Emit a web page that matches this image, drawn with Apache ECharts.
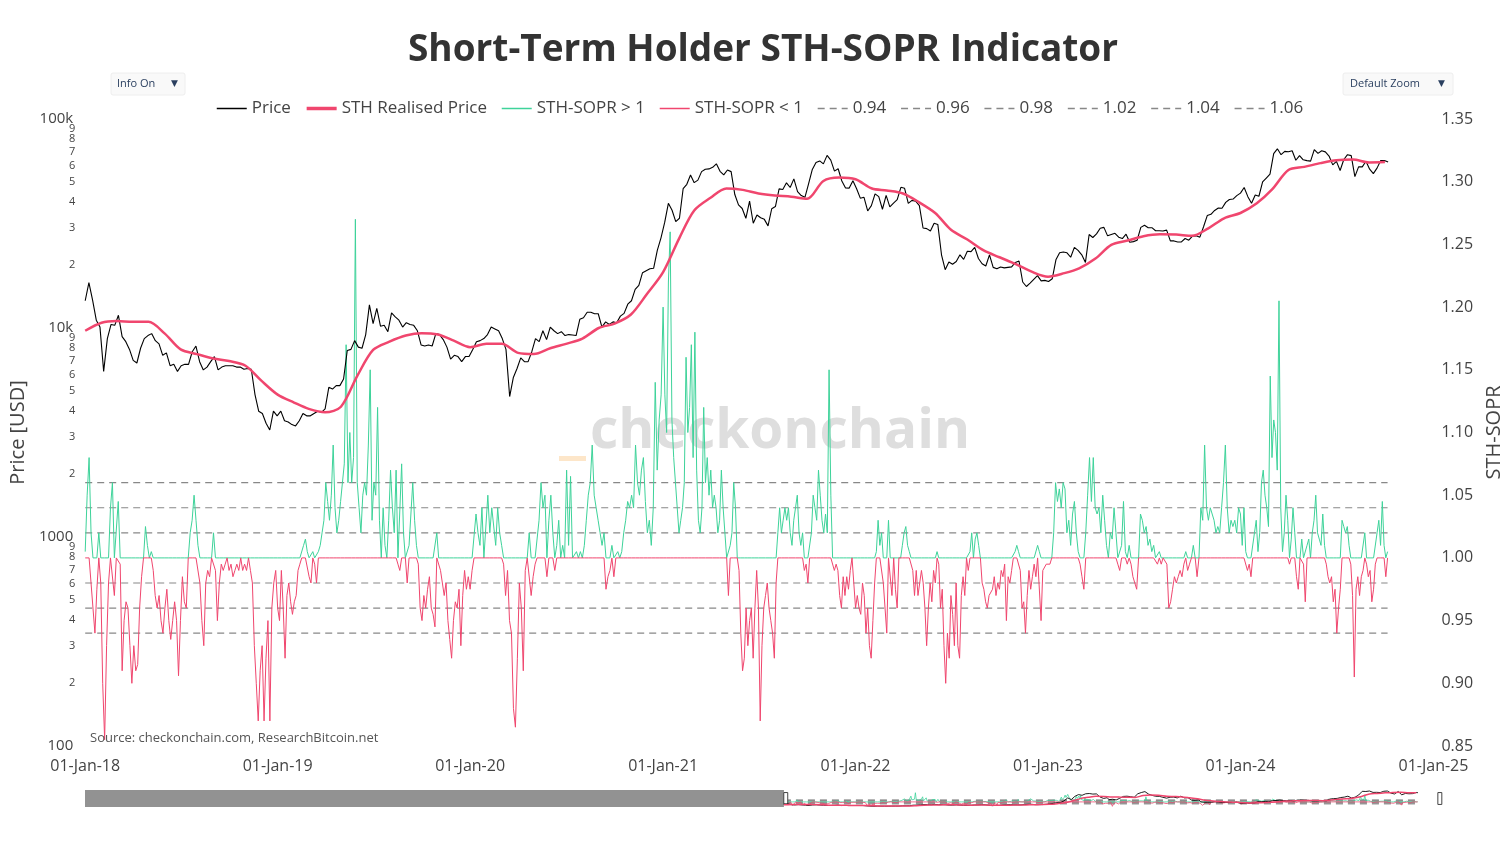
<!DOCTYPE html>
<html>
<head>
<meta charset="utf-8">
<title>Short-Term Holder STH-SOPR Indicator</title>
<script src="https://cdn.jsdelivr.net/npm/echarts@6.0.0/dist/echarts.min.js"></script>
<style>
  html, body { margin: 0; padding: 0; background: #fff; }
  #chart { width: 1512px; height: 857px; }
</style>
</head>
<body>
<div id="chart"></div>
<script>
// weekly BTC price (USD), one value per week starting Mon 2018-01-01
var priceWeekly = [
  // 2018
  13500, 16500, 13600, 10900, 10100,
  6200, 8900, 10400, 10300,
  11500, 9100, 8600, 7900,
  7000, 6800, 8000, 8900, 9200,
  9400, 8700, 8400, 7400,
  7600, 6600, 6700, 6200,
  6600, 6700, 6700, 7700, 8200,
  6900, 6300, 6500, 6900,
  7300, 6300, 6500, 6600,
  6600, 6600, 6500, 6500, 6350,
  6400, 6350, 4800, 4000,
  3900, 3500, 3250, 4000, 3800,
  // 2019
  4000, 3600, 3550, 3450,
  3400, 3600, 3900, 3800,
  3800, 3900, 4000, 3950,
  4100, 5200, 5100, 5300, 5300,
  5700, 7800, 7900, 8700,
  8100, 8000, 9300, 12900,
  10500, 12400, 10200, 10300, 9600,
  11800, 11300, 10900, 10100,
  10600, 10400, 10300, 9700, 8300,
  8200, 8300, 8200, 9400,
  9300, 8800, 8100, 7100,
  7400, 7300, 6900, 7300, 7300,
  // 2020
  7900, 8600, 8700, 8900,
  9300, 10100, 9900, 9700,
  8900, 7900, 4700, 5800, 6400,
  7200, 6900, 6900, 7700,
  8900, 8600, 9700, 8800,
  10100, 9700, 9400, 9600, 9200,
  9300, 9250, 9200, 11000,
  11200, 11900, 11900, 11700, 11700,
  10100, 10700, 10400, 10700,
  10600, 11400, 11750, 13000,
  13500, 15300, 16000, 18400, 18800,
  19200, 19300, 23500, 27000,
  // 2021
  32000, 39500, 36600, 32300,
  33500, 46400, 48700, 54000,
  49600, 51000, 56000, 57500, 57700,
  58700, 61000, 56200, 54000,
  57000, 56000, 43500, 38800, 37300,
  33500, 40500, 31700, 34700,
  33700, 33100, 30800, 37200,
  38100, 46300, 46000, 49500, 47000,
  51700, 44900, 43000, 42200,
  49100, 57400, 62000, 63000,
  61000, 67000, 63600, 56300, 57800,
  50500, 46800, 46700, 50700,
  // 2022
  46400, 41800, 42200, 36300, 38500,
  43800, 42500, 37000, 43100,
  38000, 39600, 41100, 47100,
  46600, 39500, 40800, 40400,
  38500, 30100, 29900, 29100, 31700,
  31300, 22400, 19000, 20700,
  20200, 20800, 22400, 21300,
  23300, 23200, 24300, 21500, 20300,
  19800, 22400, 19500, 19200,
  19600, 19400, 19500, 19600, 20600,
  20900, 16600, 15800, 16400,
  17100, 17800, 16800, 16900,
  // 2023
  16700, 17200, 21200, 22900, 23100,
  22900, 21800, 24300, 23500,
  22400, 20600, 28000, 27100,
  28200, 30000, 30300, 27600,
  28000, 28400, 27200, 26800, 28100,
  25700, 25900, 26300, 30300,
  31000, 30200, 30200, 29200, 29200,
  29100, 29400, 26100, 26100,
  25800, 25800, 26800, 26300,
  27500, 27600, 27200, 30500, 34500,
  35000, 36500, 37500, 37400,
  39900, 41200, 41400, 43000,
  // 2024
  44200, 47000, 42500, 39500, 43300,
  42700, 50000, 52200, 54500,
  68300, 72000, 67500, 70000,
  69700, 70500, 63500, 66800, 63800,
  63200, 62900, 71400, 68500,
  70500, 69600, 66500, 60300,
  62700, 56700, 64000, 67500, 66800,
  53000, 59000, 59000, 62800,
  57500, 54800, 58200, 63300, 63300,
  62200
];

// STH realised price (USD), first day of each month from 2018-01
var rpMonthly = [
  9700, 10600, 10800, 10700, 10700, 9400, 7900, 7500, 7150, 6950, 6600, 5600,
  4800, 4400, 4100, 3950, 4200, 5900, 7850, 8600, 9200, 9450, 9300, 8700,
  8100, 8400, 8400, 7600, 7500, 8000, 8400, 8900, 10000, 10500, 11600, 14500,
  18500, 27000, 36500, 42000, 46500, 45800, 44000, 43000, 42500, 41500, 50500, 52500,
  51500, 46500, 45500, 44000, 40000, 35500, 29500, 26500, 23500, 21800, 20200, 18600,
  17600, 18300, 19300, 21500, 25000, 26200, 27500, 28100, 28000, 27600, 30000, 33500,
  35500, 39500, 46000, 57000, 59000, 61500, 63500, 64000, 62000, 62200
];

// STH-SOPR, values spread evenly through each year
var sopr2018 = [1.005, 1.05, 1.08, 1.02, 0.96, 0.94, 0.975, 1.02, 0.98, 0.90, 0.855, 0.93, 0.98, 1.04, 1.06, 0.97, 1.0, 1.045, 0.995, 0.91,
  0.95, 0.965, 0.96, 0.93, 0.90, 0.93, 0.91, 0.915, 0.96, 0.985, 1.0, 1.025, 1.01, 1.0, 1.005, 0.99, 0.97, 0.96, 0.97, 0.95,
  0.94, 0.96, 0.975, 0.95, 0.935, 0.95, 0.965, 0.95, 0.906, 0.95, 0.985, 0.965, 0.96, 1.0, 1.02, 1.03, 1.05, 1.03, 1.01, 0.98,
  0.95, 0.93, 0.98, 0.99, 0.985, 1.0, 1.02, 0.99, 0.95, 0.98, 0.995, 0.99, 0.995, 1.0, 0.99, 0.995, 0.985, 0.99, 0.995, 0.99,
  1.0, 0.99, 0.995, 0.99, 1.0, 0.99, 0.98, 0.93, 0.90, 0.87, 0.91, 0.93, 0.87, 0.92, 0.95, 0.87, 0.96, 0.98, 0.99];
var sopr2019 = [0.96, 0.95, 0.99, 0.96, 0.92, 0.97, 0.98, 0.965, 0.955, 0.965, 0.97, 0.99, 0.995, 1.0, 1.01, 1.015, 1.005, 0.985, 0.98, 1.005,
  0.995, 0.98, 1.005, 1.01, 1.02, 1.03, 1.06, 1.045, 1.03, 1.05, 1.09, 1.04, 1.02, 1.03, 1.045, 1.06, 1.075, 1.17, 1.06, 1.1,
  1.06, 1.08, 1.27, 1.06, 1.04, 1.02, 1.05, 1.06, 1.05, 1.09, 1.15, 1.03, 1.06, 1.05, 1.12, 1.03, 1.0, 1.04, 1.01, 1.0,
  1.03, 1.07, 1.04, 1.02, 1.07, 0.995, 0.99, 1.075, 1.02, 1.0, 0.98, 1.01, 1.01, 1.06, 1.03, 1.01, 0.995, 0.96, 0.95, 0.97,
  0.96, 0.975, 0.985, 0.96, 0.955, 0.945, 1.02, 1.0, 0.99, 0.98, 0.97, 0.98, 0.95, 0.935, 0.92, 0.95, 0.965, 0.96, 0.975, 0.93,
  0.97, 0.99, 0.975, 0.985];
var sopr2020 = [0.975, 0.99, 1.0, 1.035, 1.02, 1.01, 1.04, 1.0, 1.0, 1.05, 1.02, 1.04, 1.04, 1.01, 1.04, 1.02, 1.01, 0.995, 0.97, 0.99,
  0.95, 0.94, 0.88, 0.865, 0.92, 0.98, 0.96, 0.91, 0.99, 1.0, 1.02, 0.97, 0.985, 0.995, 1.0, 1.03, 1.06, 1.04, 1.05, 0.985,
  1.03, 1.05, 1.02, 0.99, 1.01, 1.03, 1.0, 1.01, 1.0, 1.07, 1.01, 1.065, 1.0, 1.0, 1.005, 1.0, 1.005, 1.0, 1.01, 1.03,
  1.05, 1.06, 1.09, 1.05, 1.04, 1.03, 1.02, 1.01, 1.02, 0.975, 0.985, 0.99, 1.01, 0.985, 1.0, 1.005, 1.0, 1.005, 1.02, 1.03,
  1.045, 1.04, 1.05, 1.04, 1.09, 1.06, 1.05, 1.07, 1.08, 1.045, 1.02, 1.03, 1.01, 1.04, 1.14, 1.07, 1.11, 1.13];
var sopr2021 = [1.2, 1.13, 1.1, 1.22, 1.26, 1.11, 1.08, 1.06, 1.04, 1.02, 1.03, 1.04, 1.06, 1.16, 1.1, 1.12, 1.17, 1.08, 1.18, 1.07,
  1.03, 1.02, 1.04, 1.12, 1.06, 1.08, 1.05, 1.07, 1.04, 1.05, 1.04, 1.02, 1.03, 1.07, 1.04, 1.02, 1.0, 0.97, 1.01, 1.02,
  1.06, 1.04, 1.0, 0.99, 0.94, 0.91, 0.92, 0.96, 0.93, 0.95, 0.96, 0.92, 0.96, 0.99, 0.96, 0.87, 0.93, 0.96, 0.97, 0.98,
  0.96, 0.95, 0.94, 0.92, 0.98, 1.02, 1.04, 1.02, 1.03, 1.04, 1.03, 1.04, 1.02, 1.01, 1.03, 1.04, 1.05, 1.02, 1.01, 1.02,
  0.99, 0.995, 0.98, 1.0, 1.02, 1.05, 1.04, 1.03, 1.07, 1.05, 1.03, 1.02, 1.035, 1.02, 1.15, 1.05, 1.0, 0.99, 0.995, 0.99,
  0.97, 0.96, 0.985, 0.97, 0.985, 0.975, 0.99, 1.0, 0.98];
var sopr2022 = [0.96, 0.97, 0.96, 0.955, 0.98, 0.97, 0.94, 0.96, 0.93, 0.92, 0.95, 0.98, 1.005, 1.03, 1.01, 1.02, 0.98, 0.96, 0.94, 1.03,
  1.0, 0.97, 1.0, 0.975, 0.96, 1.0, 1.0, 1.01, 1.02, 1.025, 1.01, 1.005, 1.0, 0.99, 0.97, 0.99, 0.97, 0.98, 0.99, 0.98,
  0.96, 0.93, 0.96, 0.98, 0.965, 0.99, 0.98, 1.005, 0.995, 0.96, 0.975, 0.93, 0.9, 0.94, 0.92, 0.97, 0.955, 0.93, 0.98, 0.93,
  0.92, 0.97, 0.985, 0.97, 1.0, 0.99, 1.005, 1.02, 1.0, 1.015, 1.02, 1.01, 1.0, 0.98, 0.975, 0.965, 0.96, 0.97, 0.97, 0.975,
  0.985, 0.97, 0.98, 0.975, 0.99, 0.985, 0.995, 0.95, 0.985, 0.98, 0.99, 1.0, 1.005, 1.01, 1.005, 0.99, 0.96, 0.965, 0.94, 0.97,
  0.99, 0.975, 0.985, 0.995, 0.985, 1.01, 1.005, 0.95, 0.99, 0.99, 0.995];
var sopr2023 = [0.995, 0.995, 1.0, 1.02, 1.06, 1.045, 1.055, 1.04, 1.06, 1.055, 1.02, 1.03, 1.01, 1.035, 1.045, 1.02, 1.005, 0.995, 0.985, 0.975,
  1.02, 1.05, 1.08, 1.045, 1.08, 1.04, 1.035, 1.04, 1.02, 1.05, 1.03, 1.01, 1.0, 1.02, 1.015, 1.04, 1.02, 0.995, 0.99, 1.01,
  1.045, 1.005, 0.995, 1.01, 0.995, 0.985, 0.98, 0.975, 1.0, 1.035, 1.03, 1.02, 1.025, 1.01, 1.015, 1.005, 1.01, 1.0, 0.995, 1.005,
  0.995, 1.0, 1.0, 0.995, 0.96, 0.965, 0.975, 0.985, 0.98, 0.985, 0.99, 0.985, 0.995, 1.005, 0.99, 0.995, 1.0, 1.01, 1.0, 0.985,
  1.0, 1.04, 1.03, 1.09, 1.04, 1.03, 1.04, 1.035, 1.03, 1.02, 1.025, 1.02, 1.04, 1.06, 1.09, 1.04, 1.02, 1.03, 1.025, 1.03,
  1.02, 1.04];
var sopr2024 = [1.035, 1.01, 1.04, 1.005, 0.99, 0.995, 0.985, 1.0, 1.02, 1.03, 1.005, 1.02, 1.06, 1.07, 1.05, 1.04, 1.025, 1.145, 1.08, 1.11,
  1.1, 1.07, 1.205, 1.04, 1.005, 1.02, 1.05, 1.03, 0.995, 1.015, 1.04, 1.02, 0.985, 0.975, 1.0, 1.015, 0.995, 0.965, 1.01, 1.015,
  1.0, 1.02, 1.03, 1.05, 1.02, 1.015, 1.01, 1.035, 1.01, 0.995, 0.985, 0.98, 0.985, 0.965, 0.975, 0.94, 0.96, 0.975, 1.03, 1.025,
  1.02, 1.025, 1.01, 0.995, 0.97, 0.905, 0.975, 0.985, 0.97, 0.985, 0.99, 1.02, 0.995, 0.985, 0.99, 0.965, 0.975, 0.995, 1.02, 1.03,
  1.01, 1.045, 1.01, 0.985, 1.005];
var soprLastDay = '2024-10-06';

var soprLevels = [0.94, 0.96, 0.98, 1.02, 1.04, 1.06];
var priceMajorTicks = [100, 1000, 10000, 100000];
var priceMinorTicks = [100, 200, 300, 400, 500, 600, 700, 800, 900,
  1000, 2000, 3000, 4000, 5000, 6000, 7000, 8000, 9000,
  10000, 20000, 30000, 40000, 50000, 60000, 70000, 80000, 90000, 100000];
var yearTicks = ['2018-01-01', '2019-01-01', '2020-01-01', '2021-01-01', '2022-01-01', '2023-01-01', '2024-01-01', '2025-01-01'];

var DAY = 86400000;
var FONT = '"Open Sans", "Liberation Sans", sans-serif';
var GREEN = '#3ed39a';
var PINK = '#f0466e';

function ts(s) { var p = s.split('-'); return Date.UTC(+p[0], +p[1] - 1, +p[2]); }
function lg(v) { return Math.min(5, Math.log10(v)); }

var priceDates = priceWeekly.map(function (p, i) { return ts('2018-01-01') + i * 7 * DAY; });
var rpDates = rpMonthly.map(function (p, i) { return Date.UTC(2018, i, 1); });

var soprYears = [[2018, sopr2018], [2019, sopr2019], [2020, sopr2020], [2021, sopr2021], [2022, sopr2022], [2023, sopr2023], [2024, sopr2024]];
var soprData = [];
soprYears.forEach(function (yv) {
  var y = yv[0], arr = yv[1];
  var start = Date.UTC(y, 0, 1);
  var last = y === 2024;
  var end = last ? ts(soprLastDay) : Date.UTC(y + 1, 0, 1);
  var step = (end - start) / (last ? arr.length - 1 : arr.length);
  arr.forEach(function (v, i) { soprData.push([start + i * step, v]); });
});
var soprUp = soprData.map(function (d) { return [d[0], Math.max(d[1], 1)]; });
var soprDown = soprData.map(function (d) { return [d[0], Math.min(d[1], 1)]; });
var lineStart = ts('2018-01-01'), lineEnd = ts(soprLastDay);

// x range of the whole history shown by the range slider, and the visible window
var fullStart = ts('2010-07-18'), fullEnd = ts('2025-01-01'), viewStart = ts('2018-01-01');
var slider = { left: 85, right: 72, top: 790, height: 17 };
var sliderW = 1512 - slider.left - slider.right;
var shadeW = (viewStart - fullStart) / (fullEnd - fullStart) * sliderW;

function leadDigit(v) {
  var p = Math.round(Math.pow(10, v));
  var mag = Math.pow(10, Math.floor(Math.log10(p) + 1e-9));
  return { p: p, lead: Math.round(p / mag) };
}
function majorLabel(v) {
  var p = leadDigit(v).p;
  return p >= 10000 ? (p / 1000) + 'k' : String(p);
}
function minorLabel(v) {
  var d = leadDigit(v);
  return d.lead === 1 ? '' : String(d.lead);
}

function buildSeries(mini) {
  var xi = mini ? 1 : 0, yp = mini ? 2 : 0, ys = mini ? 3 : 1;
  var w = mini ? 0.8 : 1;
  var px = function (p) { return mini ? p : lg(p); };
  var out = [
    { name: 'Price', type: 'line', xAxisIndex: xi, yAxisIndex: yp, symbol: 'none', z: 4, silent: mini,
      data: priceWeekly.map(function (p, i) { return [priceDates[i], px(p)]; }),
      color: '#000', lineStyle: { color: '#000', width: 1.1 * w } },
    { name: 'STH Realised Price', type: 'line', xAxisIndex: xi, yAxisIndex: yp, symbol: 'none', smooth: 0.3, z: 5, silent: mini,
      data: rpMonthly.map(function (p, i) { return [rpDates[i], px(p)]; }),
      color: PINK, lineStyle: { color: PINK, width: mini ? 1.5 : 2.5 } },
    { name: 'STH-SOPR > 1', type: 'line', xAxisIndex: xi, yAxisIndex: ys, data: soprUp, symbol: 'none', z: 3, silent: mini,
      color: GREEN, lineStyle: { color: GREEN, width: w } },
    { name: 'STH-SOPR < 1', type: 'line', xAxisIndex: xi, yAxisIndex: ys, data: soprDown, symbol: 'none', z: 3, silent: mini,
      color: PINK, lineStyle: { color: PINK, width: w } }
  ];
  soprLevels.forEach(function (lv) {
    out.push({ name: lv.toFixed(2), type: 'line', xAxisIndex: xi, yAxisIndex: ys, symbol: 'none', z: 2, silent: mini,
      data: [[lineStart, lv], [lineEnd, lv]],
      color: '#888', lineStyle: { color: '#888', width: 1.2 * w, type: [7, 5] } });
  });
  return out;
}

var mainSeries = buildSeries(false);
var legendData = mainSeries.map(function (s) {
  var wd = s.name === 'STH Realised Price' ? 3.5 : 1.5;
  return { name: s.name, lineStyle: { width: wd } };
});

var hidden = { show: false };
var chart = echarts.init(document.getElementById('chart'));
chart.setOption({
  animation: false,
  backgroundColor: '#fff',
  textStyle: { fontFamily: FONT },
  title: {
    text: 'Short-Term Holder STH-SOPR Indicator',
    left: 758, top: 27, textAlign: 'center',
    textStyle: { fontFamily: FONT, fontWeight: 'bold', fontSize: 37, color: '#333' }
  },
  legend: {
    data: legendData,
    top: 95, left: 211, itemWidth: 30, itemHeight: 14, itemGap: 14,
    itemStyle: { opacity: 0, color: 'rgba(0,0,0,0)', borderWidth: 0 },
    textStyle: { fontFamily: FONT, fontSize: 17, color: '#444' }
  },
  grid: [
    { left: 85, right: 74, top: 119, bottom: 111 },
    { left: slider.left, right: slider.right, top: slider.top, height: slider.height }
  ],
  xAxis: [{
    type: 'value',
    min: fullStart, max: fullEnd,
    axisLine: { show: false }, axisTick: { show: false }, splitLine: { show: false },
    axisLabel: {
      customValues: yearTicks.map(ts), showMinLabel: true, showMaxLabel: true,
      formatter: function (v) { return '01-Jan-' + String(new Date(v).getUTCFullYear()).slice(2); },
      color: '#444', fontSize: 16, fontFamily: FONT, margin: 12
    }
  }, {
    type: 'value', gridIndex: 1, min: fullStart, max: fullEnd,
    axisLine: hidden, axisTick: hidden, axisLabel: hidden, splitLine: hidden
  }],
  yAxis: [
    { type: 'value', min: 2, max: 5, position: 'left',
      name: 'Price [USD]', nameLocation: 'middle', nameGap: 52, nameRotate: 90,
      nameTextStyle: { fontFamily: FONT, fontSize: 20, color: '#444' },
      axisLine: { show: false }, axisTick: { show: false }, splitLine: { show: false },
      axisLabel: {
        customValues: priceMajorTicks.map(lg), formatter: majorLabel, margin: 12,
        showMinLabel: true, showMaxLabel: true,
        fontSize: 15, color: '#444', fontFamily: FONT
      } },
    { type: 'value', min: 0.85, max: 1.35, interval: 0.05, position: 'right',
      name: 'STH-SOPR', nameLocation: 'middle', nameGap: 46, nameRotate: 90,
      nameTextStyle: { fontFamily: FONT, fontSize: 20, color: '#444' },
      axisLine: { show: false }, axisTick: { show: false }, splitLine: { show: false },
      axisLabel: { formatter: function (v) { return v.toFixed(2); }, color: '#444', fontSize: 16, fontFamily: FONT, margin: 8 } },
    { type: 'value', gridIndex: 1, min: 0, max: 74000,
      axisLine: hidden, axisTick: hidden, axisLabel: hidden, splitLine: hidden },
    { type: 'value', gridIndex: 1, min: 0.85, max: 1.35,
      axisLine: hidden, axisTick: hidden, axisLabel: hidden, splitLine: hidden },
    // minor log labels (2..9 of each decade) on their own axis
    { type: 'value', min: 2, max: 5, position: 'left',
      axisLine: { show: false }, axisTick: { show: false }, splitLine: { show: false },
      axisLabel: {
        customValues: priceMinorTicks.map(lg), formatter: minorLabel, margin: 10,
        showMinLabel: true, showMaxLabel: true, lineHeight: 8,
        fontSize: 11, color: '#444', fontFamily: FONT
      } }
  ],
  dataZoom: [{
    type: 'slider', xAxisIndex: 0,
    startValue: viewStart, endValue: fullEnd,
    left: slider.left, right: slider.right, top: slider.top, height: slider.height,
    backgroundColor: 'rgba(0,0,0,0)', borderColor: 'transparent',
    fillerColor: 'rgba(0,0,0,0)', showDataShadow: false,
    handleIcon: 'path://M0,0 L4,0 L4,12 L0,12 Z', handleSize: '70%',
    handleStyle: { color: '#fff', borderColor: '#444', borderWidth: 1 },
    moveHandleSize: 0, showDetail: false, brushSelect: false
  }],
  graphic: [
    { type: 'rect', z: 1, shape: { x: slider.left, y: slider.top, width: shadeW, height: slider.height }, style: { fill: 'rgba(100,100,100,0.7)' } },
    { type: 'rect', z: 0, shape: { x: 559, y: 456, width: 27, height: 5 }, style: { fill: '#fde6c9' } },
    { type: 'text', z: 0, x: 590, y: 432,
      style: { text: 'checkonchain', font: 'bold 55px ' + FONT, fill: '#dedede', textVerticalAlign: 'middle' } },
    { type: 'text', z: 10, x: 90, y: 738,
      style: { text: 'Source: checkonchain.com, ResearchBitcoin.net', font: '13px ' + FONT, fill: '#555', textVerticalAlign: 'middle' } },
    { type: 'rect', z: 10, shape: { x: 111, y: 73, width: 74, height: 22, r: 2 }, style: { fill: '#f9f9f9', stroke: '#eeeeee', lineWidth: 1 } },
    { type: 'text', z: 11, x: 117, y: 84, style: { text: 'Info On', font: '11px ' + FONT, fill: '#2a3f5f', textVerticalAlign: 'middle' } },
    { type: 'text', z: 11, x: 171, y: 84, style: { text: '▼', font: '9px "DejaVu Sans"', fill: '#2a3f5f', textVerticalAlign: 'middle' } },
    { type: 'rect', z: 10, shape: { x: 1343, y: 73, width: 110, height: 22, r: 2 }, style: { fill: '#f9f9f9', stroke: '#eeeeee', lineWidth: 1 } },
    { type: 'text', z: 11, x: 1350, y: 84, style: { text: 'Default Zoom', font: '11px ' + FONT, fill: '#2a3f5f', textVerticalAlign: 'middle' } },
    { type: 'text', z: 11, x: 1438, y: 84, style: { text: '▼', font: '9px "DejaVu Sans"', fill: '#2a3f5f', textVerticalAlign: 'middle' } }
  ],
  series: mainSeries.concat(buildSeries(true))
});
</script>
</body>
</html>
